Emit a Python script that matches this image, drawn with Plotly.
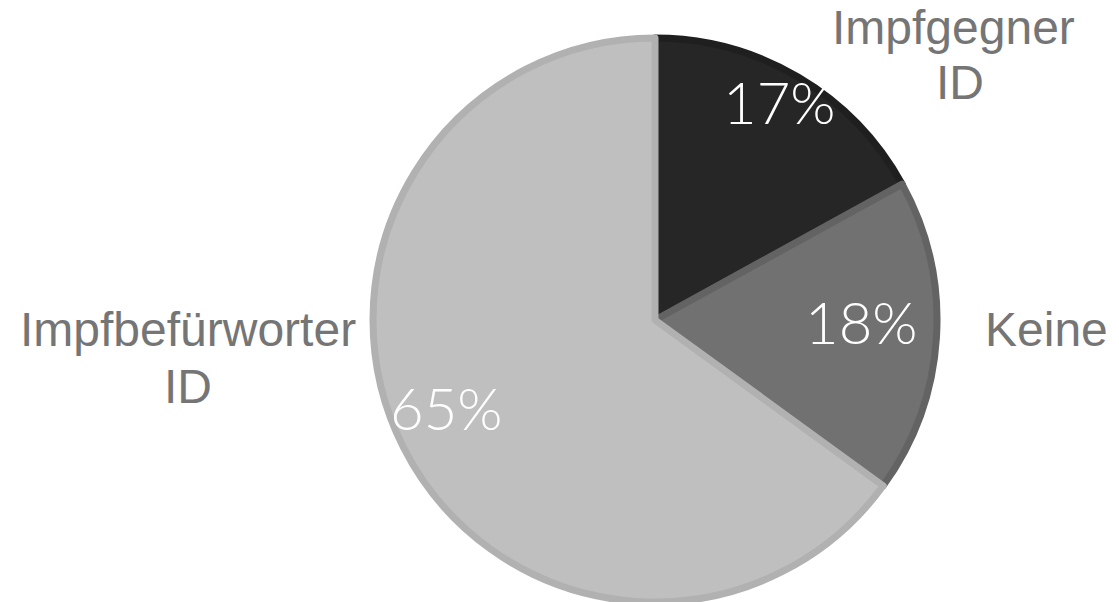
import plotly.graph_objects as go

categories = ["Impfgegner ID", "Keine", "Impfbefürworter ID"]
label_lines = [["Impfgegner", "ID"], ["Keine"], ["Impfbefürworter", "ID"]]
values = [17, 18, 65]
fill_colors = ["#262626", "#717171", "#bfbfbf"]
line_colors = ["#1f1f1f", "#636363", "#b1b1b1"]

W, H = 1119, 602

fig = go.Figure()
fig.add_trace(go.Pie(
    labels=categories,
    values=values,
    sort=False,
    direction="clockwise",
    rotation=0,
    textinfo="none",
    hoverinfo="label+percent",
    marker=dict(colors=fill_colors, line=dict(color=line_colors, width=7)),
    domain=dict(x=[372 / W, 938 / W], y=[0.0, 1 - 38 / H]),
    showlegend=False,
))

total = sum(values)
pct = [f"{round(v / total * 100)}%" for v in values]

# label positions (pixel anchors)
pct_pos = [(779, 101), (861, 322), (446, 407)]
line_pos = [[(953, 27), (960, 82)], [(1046, 329)], [(188, 329), (188, 386)]]

annotations = []
for (px, py), t in zip(pct_pos, pct):
    annotations.append(dict(
        x=px / W, y=1 - py / H, xref="paper", yref="paper",
        text=t, showarrow=False, xanchor="center", yanchor="middle",
        font=dict(family="Lato", size=58, color="#ffffff", weight=300),
    ))
for lines, poss in zip(label_lines, line_pos):
    for t, (px, py) in zip(lines, poss):
        annotations.append(dict(
            x=px / W, y=1 - py / H, xref="paper", yref="paper",
            text=t, showarrow=False, xanchor="center", yanchor="middle",
            font=dict(family="Liberation Sans, Arial", size=48, color="#757575"),
        ))

fig.update_layout(
    width=W, height=H,
    margin=dict(l=0, r=0, t=0, b=0),
    paper_bgcolor="#ffffff",
    plot_bgcolor="#ffffff",
    annotations=annotations,
)

fig.write_html("out.html", config={"displayModeBar": False},
               post_script="document.body.style.margin='0';")
